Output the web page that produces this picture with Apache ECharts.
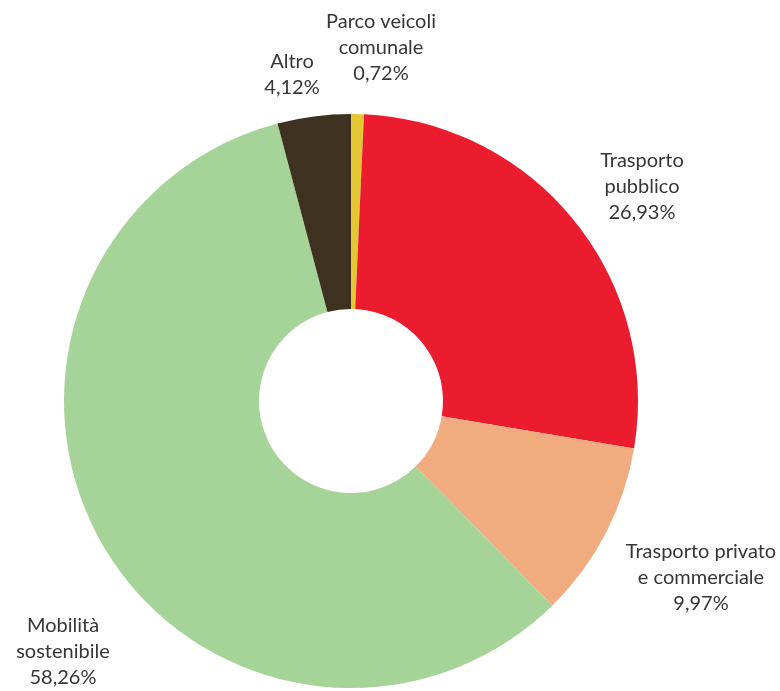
<!DOCTYPE html>
<html>
<head>
<meta charset="utf-8">
<title>Ripartizione per ambito</title>
<script src="https://cdn.jsdelivr.net/npm/echarts@6/dist/echarts.min.js"></script>
<style>
  html, body { margin: 0; padding: 0; background: #ffffff; }
  #chart { width: 780px; height: 691px; }
</style>
</head>
<body>
<div id="chart"></div>
<script>
// Categories (clockwise from 12 o'clock) and their shares in percent
const categories = [
  'Parco veicoli\ncomunale',
  'Trasporto\npubblico',
  'Trasporto privato\ne commerciale',
  'Mobilità\nsostenibile',
  'Altro'
];
const shares = [0.72, 26.93, 9.97, 58.26, 4.12];

// Slice colours, same order as the categories
const sliceColors = ['#E3C834', '#EB1C2E', '#F0AC7F', '#A6D397', '#3E311F'];

// Where each label block is centred on the page
const labelSpots = [
  [381, 48],
  [642, 187],
  [701, 578],
  [63, 652],
  [292, 75]
];

const fmt = v => v.toFixed(2).replace('.', ',') + '%';

const chart = echarts.init(document.getElementById('chart'), null, { renderer: 'canvas' });

chart.setOption({
  animation: false,
  backgroundColor: '#ffffff',
  series: [{
    type: 'pie',
    center: [351, 401],
    radius: [92, 287],
    startAngle: 90,
    clockwise: true,
    avoidLabelOverlap: false,
    silent: true,
    itemStyle: { borderWidth: 0 },
    label: {
      show: true,
      position: 'outside',
      formatter: p => p.name + '\n' + fmt(p.value),
      color: '#363636',
      fontFamily: 'Lato',
      fontSize: 20,
      lineHeight: 26,
      align: 'center'
    },
    labelLine: { show: false },
    labelLayout: p => ({
      x: labelSpots[p.dataIndex][0],
      y: labelSpots[p.dataIndex][1],
      align: 'center',
      verticalAlign: 'middle'
    }),
    emphasis: { disabled: true },
    data: categories.map((name, i) => ({
      name: name,
      value: shares[i],
      itemStyle: { color: sliceColors[i] }
    }))
  }]
});
</script>
</body>
</html>
